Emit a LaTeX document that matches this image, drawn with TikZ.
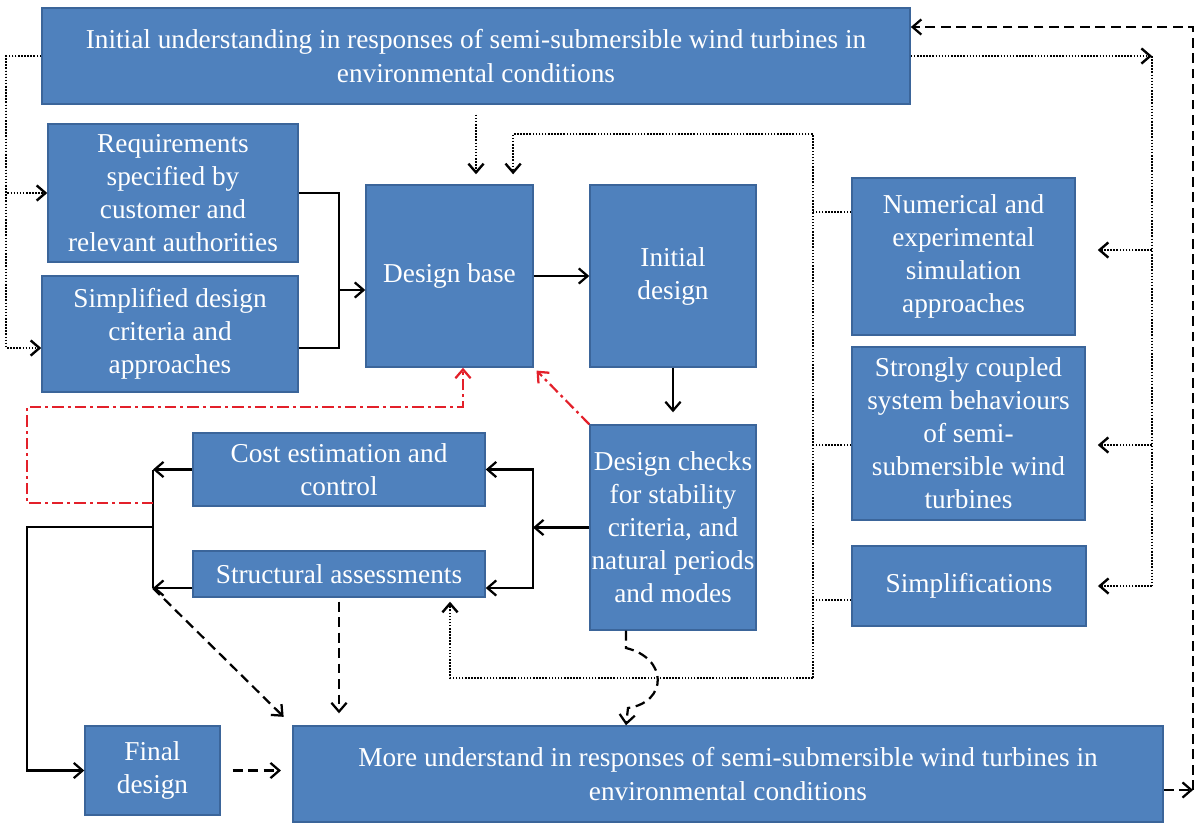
\documentclass[tikz,border=0pt]{standalone}
\usepackage{fontspec}
\setmainfont{Liberation Serif}
\usetikzlibrary{arrows.meta, calc, positioning}
\definecolor{boxfill}{HTML}{4F81BD}
\definecolor{boxline}{HTML}{3B659A}
\definecolor{loopred}{HTML}{E3202A}

\begin{document}
\begin{tikzpicture}[x=0.025cm, y=-0.025cm,
    block/.style={draw=boxline, line width=1pt, fill=boxfill, text=white, align=center, inner sep=1pt, font=\fontsize{19.4}{23.5}\selectfont},
    link/.style={line width=1.6pt},
    flow/.style={-{Straight Barb[length=2.2mm, width=3.8mm]}, line width=1.6pt},
    dotline/.style={line width=1.8pt, dash pattern=on 1.1pt off 1.1pt},
    dotflow/.style={flow, line width=1.7pt, dash pattern=on 1.1pt off 1.1pt},
    dashflow/.style={flow, dash pattern=on 7pt off 4pt},
    redflow/.style={flow, color=loopred, dash pattern=on 8pt off 3pt on 2pt off 3pt}
]
\useasboundingbox (0,0) rectangle (1202,825);

\node[block, minimum width=21.7cm, minimum height=2.4cm] (tun) at (476,56) {Initial understanding in responses of semi-submersible wind turbines in\\environmental conditions};
\node[block, minimum width=6.25cm, minimum height=3.45cm] (req) at (173,193) {Requirements\\specified by\\customer and\\relevant authorities};
\node[block, minimum width=6.4cm, minimum height=2.9cm] (simp) at (170,334) {Simplified design\\criteria and\\approaches};
\node[block, minimum width=4.175cm, minimum height=4.55cm] (base) at (449.5,276) {Design base};
\node[block, minimum width=4.15cm, minimum height=4.55cm] (init) at (673,276) {Initial\\design};
\node[block, minimum width=4.15cm, minimum height=5.125cm] (checks) at (673,527.5) {Design checks\\for stability\\criteria, and\\natural periods\\and modes};
\node[block, minimum width=7.3cm, minimum height=1.825cm] (cost) at (339,469.5) {Cost estimation and\\control};
\node[block, minimum width=7.3cm, minimum height=1.15cm] (struct) at (339,574) {Structural assessments};
\node[block, minimum width=5.575cm, minimum height=3.925cm] (num) at (963.5,256.5) {Numerical and\\experimental\\simulation\\approaches};
\node[block, minimum width=5.825cm, minimum height=4.325cm] (strong) at (968.5,433.5) {Strongly coupled\\system behaviours\\of semi-\\submersible wind\\turbines};
\node[block, minimum width=5.85cm, minimum height=2cm] (simpl) at (969,586) {Simplifications};
\node[block, minimum width=3.375cm, minimum height=2.225cm] (final) at (152.5,770.5) {Final\\design};
\node[block, minimum width=21.75cm, minimum height=2.4cm] (more) at (728,774) {More understand in responses of semi-submersible wind turbines in\\environmental conditions};

\coordinate (jr) at (339,290);
\coordinate (jc) at (533,527.5);
\coordinate (jl) at (153,527);
\coordinate (rtop) at (813,134);
\coordinate (rbot) at (813,678);
\coordinate (rr) at (1152,56);
\coordinate (dr) at (1193,790);

\draw[dotflow] (tun.west) -- ++(-35,0) |- (req.west);
\draw[dotflow] (tun.west) -- ++(-35,0) |- ([yshift=-0.35cm]simp.west);
\draw[link] (req.east) -| (jr);
\draw[link] ([yshift=-0.35cm]simp.east) -| (jr);
\draw[flow] (jr) -- (base.west |- jr);
\draw[dotflow, shorten <=0.25cm, shorten >=0.25cm] (tun.south) -- (base.north -| tun.south);

\draw[dotline] (num.west |- 0,212) -- (rtop |- 0,212);
\draw[dotline] (strong.west |- 0,445) -- (rtop |- 0,445);
\draw[dotline] (simpl.west |- 0,600) -- (rtop |- 0,600);
\draw[dotflow, shorten >=0.25cm] (rbot) -- (rtop) -| ([xshift=1.59cm]base.north);
\draw[dotflow, shorten >=0.1cm] (rbot) -| (struct.south -| 450,0);

\draw[dotflow] (tun.east) -- (rr);
\draw[dotline] (rr) -- (rr |- 0,586);
\draw[dotflow, shorten >=0.55cm] (rr |- 0,250) -- (num.east |- 0,250);
\draw[dotflow, shorten >=0.3cm] (rr |- 0,445) -- (strong.east |- 0,445);
\draw[dotflow, shorten >=0.28cm] (rr |- 0,586) -- (simpl.east);

\draw[dashflow] (more.east |- dr) -- (dr);
\draw[dashflow] (dr) -- (dr |- 0,27) -- (tun.east |- 0,27);

\draw[flow] (base.east) -- (init.west);
\draw[flow, shorten >=0.3cm] (init.south) -- (checks.north);
\draw[flow] (checks.west) -- (jc);
\draw[flow] (jc) |- (cost.east);
\draw[flow] (jc) |- (struct.east |- 0,588);
\draw[flow] (cost.west) -- (cost.west -| jl);
\draw[flow] (struct.west |- 0,588) -- (jl |- 0,588);
\draw[link] (jl |- cost.west) -- (jl |- 0,588);
\draw[flow] (jl) -- ++(-126,0) |- (final.west);

\draw[redflow] (jl |- 0,503) -- (27,503) -- (27,407) -| (base.south -| 463,0);
\draw[redflow, shorten >=0.1cm] (checks.north west) -- (base.south east);

\draw[dashflow, shorten >=0.3cm] (jl |- 0,588) -- (more.north west);
\draw[dashflow, shorten <=0.1cm, shorten >=0.3cm] (struct.south) -- (more.north -| struct.south);
\draw[dashflow, shorten <=0.3cm, shorten >=0.28cm] (final.east) -- (more.west |- final.east);
\draw[dashflow] (checks.south -| 626,0) -- (626,648) .. controls (668,658) and (668,702) .. (628,708) -- (more.north -| 626,0);
\end{tikzpicture}
\end{document}
